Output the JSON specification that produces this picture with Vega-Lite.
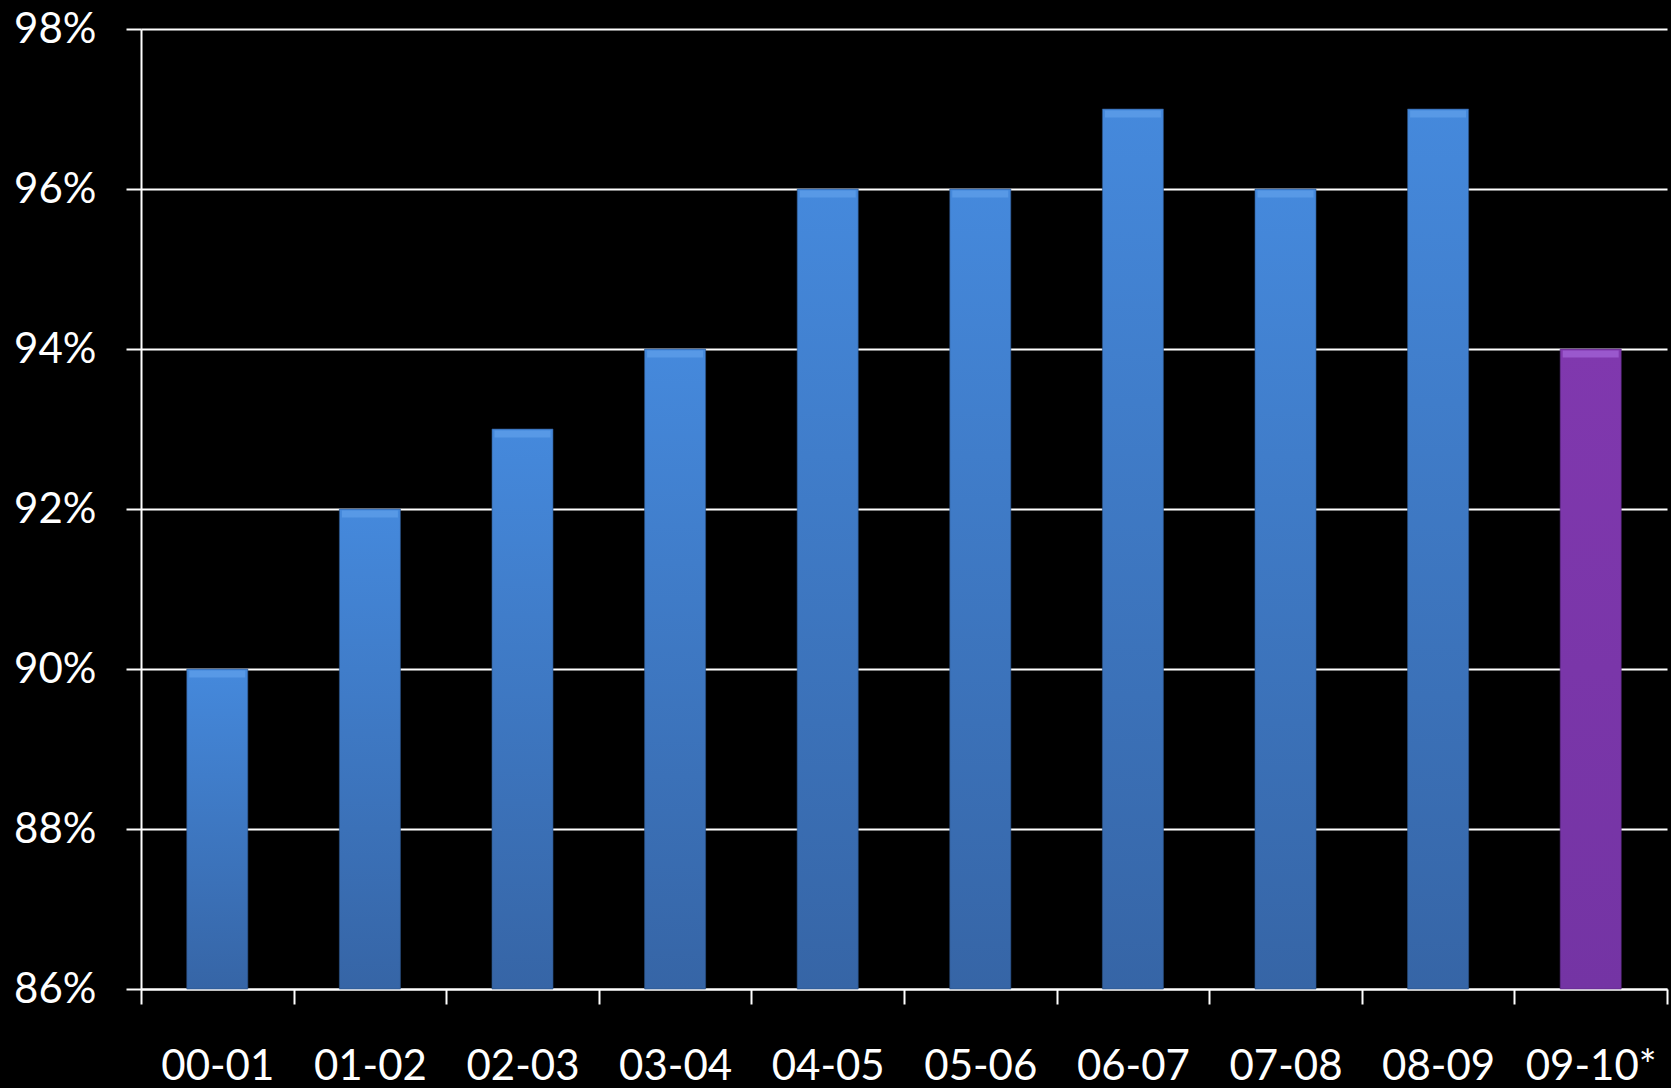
{
  "$schema": "https://vega.github.io/schema/vega-lite/v6.json",
  "width": 1526,
  "height": 960,
  "autosize": {"type": "none"},
  "padding": {"left": 141, "top": 29, "right": 4, "bottom": 99},
  "background": "black",
  "config": {
    "view": {"stroke": null},
    "font": "Lato",
    "axis": {"labelFont": "Lato", "labelColor": "white", "labelFontSize": 42, "labelFontWeight": "normal"}
  },
  "data": {
    "values": [
      {"year": "00-01", "rate": 0.90, "kind": "actual"},
      {"year": "01-02", "rate": 0.92, "kind": "actual"},
      {"year": "02-03", "rate": 0.93, "kind": "actual"},
      {"year": "03-04", "rate": 0.94, "kind": "actual"},
      {"year": "04-05", "rate": 0.96, "kind": "actual"},
      {"year": "05-06", "rate": 0.96, "kind": "actual"},
      {"year": "06-07", "rate": 0.97, "kind": "actual"},
      {"year": "07-08", "rate": 0.96, "kind": "actual"},
      {"year": "08-09", "rate": 0.97, "kind": "actual"},
      {"year": "09-10*", "rate": 0.94, "kind": "estimate"}
    ]
  },
  "encoding": {
    "x": {
      "field": "year", "type": "nominal", "sort": null,
      "scale": {"paddingInner": 0, "paddingOuter": 0},
      "axis": {
        "title": null, "labelAngle": 0, "tickBand": "extent",
        "domainColor": "white", "domainWidth": 2,
        "tickColor": "white", "tickWidth": 2, "tickSize": 15,
        "labelPadding": 42, "grid": false
      }
    },
    "y": {
      "field": "rate", "type": "quantitative",
      "scale": {"domain": [0.86, 0.98], "nice": false, "zero": false},
      "axis": {
        "title": null, "format": ".0%",
        "values": [0.86, 0.88, 0.90, 0.92, 0.94, 0.96, 0.98],
        "domainColor": "white", "domainWidth": 2,
        "tickColor": "white", "tickWidth": 2, "tickSize": 15,
        "grid": true, "gridColor": "white", "gridWidth": 2,
        "labelPadding": 30
      }
    }
  },
  "layer": [
    {
      "transform": [{"filter": "datum.kind === 'actual'"}],
      "mark": {
        "type": "bar", "width": {"band": 0.4},
        "stroke": "#2c5286", "strokeWidth": 1, "strokeOpacity": 0.6,
        "color": {
          "gradient": "linear", "x1": 0, "y1": 0, "x2": 0, "y2": 1,
          "stops": [
            {"offset": 0, "color": "#4589dc"},
            {"offset": 1, "color": "#3665a6"}
          ]
        }
      },
      "encoding": {"y2": {"datum": 0.86}}
    },
    {
      "transform": [{"filter": "datum.kind === 'estimate'"}],
      "mark": {
        "type": "bar", "width": {"band": 0.4},
        "stroke": "#5a2a80", "strokeWidth": 1, "strokeOpacity": 0.6,
        "color": {
          "gradient": "linear", "x1": 0, "y1": 0, "x2": 0, "y2": 1,
          "stops": [
            {"offset": 0, "color": "#8038ae"},
            {"offset": 1, "color": "#7434a4"}
          ]
        }
      },
      "encoding": {"y2": {"datum": 0.86}}
    },
    {
      "mark": {"type": "tick", "thickness": 7, "size": 56, "yOffset": 5, "opacity": 0.8},
      "encoding": {
        "color": {
          "field": "kind", "type": "nominal",
          "scale": {"domain": ["actual", "estimate"], "range": ["#5c9de8", "#a060d4"]},
          "legend": null
        }
      }
    }
  ]
}
